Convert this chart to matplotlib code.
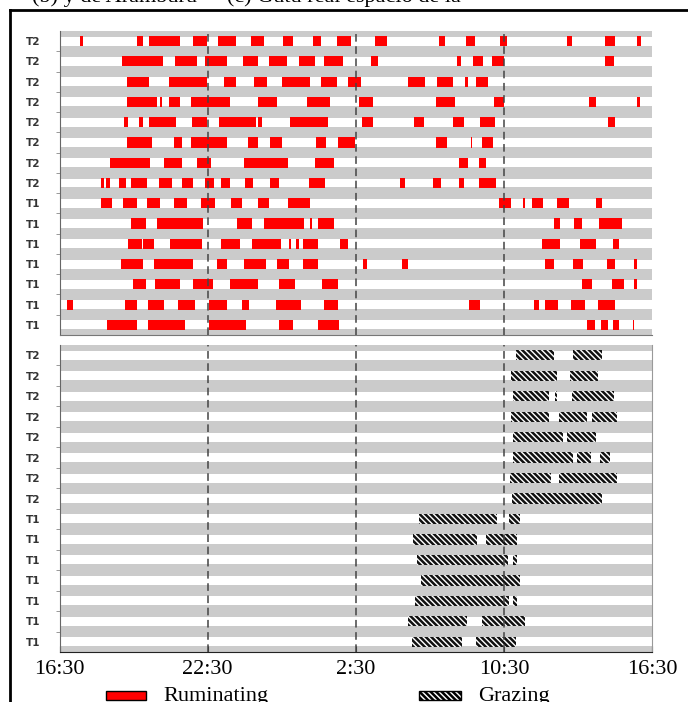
import matplotlib
matplotlib.use('Agg')
import matplotlib.pyplot as plt
from matplotlib.patches import Rectangle
from matplotlib.lines import Line2D

# rows, top to bottom (same order in both panels)
row_labels = ['T2'] * 8 + ['T1'] * 7

# time axis: position 0..24, labels at equal spacing
tick_pos = [0, 6, 12, 18, 24]
tick_labels = ['16:30', '22:30', '2:30', '10:30', '16:30']

# ruminating bouts (start, end) per animal
rumination = [
    [(0.83, 0.96), (3.13, 3.37), (3.61, 4.88), (5.42, 5.96), (6.43, 7.15), (7.74, 8.28), (9.06, 9.47),
     (10.25, 10.57), (11.25, 11.80), (12.79, 13.25), (15.36, 15.62), (16.46, 16.81), (17.83, 18.13),
     (20.53, 20.75), (22.10, 22.50), (23.37, 23.53)],
    [(2.54, 4.18), (4.66, 5.58), (5.90, 6.79), (7.44, 8.05), (8.47, 9.22), (9.70, 10.33), (10.72, 11.49),
     (12.61, 12.89), (16.08, 16.24), (16.75, 17.13), (17.50, 17.98), (22.10, 22.45)],
    [(2.74, 3.61), (4.43, 5.96), (6.66, 7.15), (7.89, 8.41), (9.00, 10.14), (10.59, 11.25), (11.68, 12.22),
     (14.11, 14.81), (15.27, 15.92), (16.43, 16.54), (16.87, 17.36)],
    [(2.74, 3.94), (4.07, 4.15), (4.42, 4.88), (5.32, 6.90), (8.05, 8.82), (10.01, 10.95), (12.14, 12.68),
     (15.24, 16.01), (17.59, 18.01), (21.45, 21.72), (23.37, 23.50)],
    [(2.61, 2.77), (3.21, 3.37), (3.61, 4.72), (5.35, 5.96), (6.46, 7.96), (8.04, 8.19), (9.33, 10.87),
     (12.23, 12.70), (14.35, 14.76), (15.92, 16.39), (17.04, 17.62), (22.21, 22.50)],
    [(2.74, 3.74), (4.64, 4.95), (5.32, 6.77), (7.64, 8.04), (8.52, 9.02), (10.38, 10.79), (11.28, 11.98),
     (15.23, 15.69), (16.65, 16.70), (17.12, 17.54)],
    [(2.04, 3.66), (4.23, 4.95), (5.58, 6.13), (7.48, 9.24), (10.33, 11.11), (16.16, 16.55), (16.97, 17.26)],
    [(1.68, 1.80), (1.88, 2.04), (2.42, 2.69), (2.91, 3.53), (4.02, 4.54), (4.96, 5.39), (5.90, 6.27),
     (6.55, 6.90), (7.51, 7.85), (8.52, 8.90), (10.09, 10.76), (13.79, 14.00), (15.13, 15.43),
     (16.19, 16.38), (17.00, 17.67)],
    [(1.68, 2.13), (2.57, 3.14), (3.54, 4.07), (4.64, 5.16), (5.73, 6.30), (6.94, 7.39), (8.04, 8.48),
     (9.25, 10.14), (17.79, 18.28), (18.77, 18.85), (19.13, 19.57), (20.14, 20.63), (21.72, 21.96)],
    [(2.89, 3.50), (3.94, 5.82), (7.20, 7.81), (8.28, 9.90), (10.14, 10.22), (10.48, 11.11), (20.03, 20.28),
     (20.83, 21.14), (21.85, 22.76)],
    [(2.79, 3.33), (3.37, 3.84), (4.49, 5.78), (6.54, 7.31), (7.81, 8.97), (9.28, 9.36), (9.59, 9.68),
     (9.86, 10.47), (11.36, 11.67), (19.53, 20.26), (21.07, 21.72), (22.40, 22.64)],
    [(2.48, 3.37), (3.84, 5.42), (6.36, 6.77), (7.48, 8.35), (8.82, 9.30), (9.85, 10.47), (12.28, 12.44),
     (13.88, 14.10), (19.64, 20.03), (20.80, 21.21), (22.18, 22.49), (23.27, 23.37)],
    [(2.99, 3.50), (3.88, 4.88), (5.39, 6.23), (6.90, 8.02), (8.89, 9.55), (10.64, 11.28), (21.17, 21.55),
     (22.38, 22.85), (23.27, 23.37)],
    [(0.29, 0.53), (2.65, 3.13), (3.60, 4.23), (4.79, 5.50), (6.05, 6.77), (7.39, 7.68), (8.77, 9.79),
     (10.71, 11.26), (16.58, 17.01), (19.22, 19.40), (19.64, 20.18), (20.72, 21.28), (21.79, 22.49)],
    [(1.94, 3.13), (3.60, 5.09), (6.05, 7.55), (8.90, 9.44), (10.48, 11.32), (21.37, 21.69), (21.92, 22.22),
     (22.40, 22.65), (23.21, 23.27)],
]

# grazing bouts (start, end) per animal
grazing = [
    [(18.47, 20.02), (20.78, 21.95)],
    [(18.28, 20.13), (20.67, 21.81)],
    [(18.37, 19.83), (20.06, 20.13), (20.74, 22.45)],
    [(18.28, 19.83), (20.22, 21.34), (21.57, 22.56)],
    [(18.37, 20.37), (20.56, 21.72)],
    [(18.37, 20.78), (20.94, 21.51), (21.88, 22.29)],
    [(18.24, 19.89), (20.22, 22.56)],
    [(18.31, 21.95)],
    [(14.57, 17.70), (18.20, 18.64)],
    [(14.32, 16.92), (17.27, 18.51)],
    [(14.49, 18.17), (18.37, 18.51)],
    [(14.62, 18.64)],
    [(14.39, 18.21), (18.37, 18.51)],
    [(14.12, 16.51), (17.09, 18.85)],
    [(14.26, 16.28), (16.86, 18.48)],
]

plt.rcParams['hatch.linewidth'] = 1.8
serif = 'Liberation Serif'
hatch = '\\' * 6

fig = plt.figure(figsize=(6.88, 7.02), dpi=100)
ax1 = fig.add_axes([0.0865, 0.5228, 0.8616, 0.433])
ax2 = fig.add_axes([0.0865, 0.0712, 0.8616, 0.4373])

n = len(row_labels)


def setup(ax):
    ax.set_facecolor('#cbcbcb')
    ax.set_xlim(0, 24)
    ax.set_ylim(n - 0.5, -0.5)
    for i in range(n):
        ax.axhspan(i - 0.22, i + 0.22, color='white', lw=0, zorder=0.5)
    for x in tick_pos[1:-1]:
        ax.axvline(x, color='#444444', lw=1.1, ls=(0, (5, 3)), zorder=3)
    ax.set_yticks(range(n))
    ax.set_yticklabels(row_labels, fontsize=7.5, fontweight='bold', color='#333333')
    ax.set_yticks([i + 0.5 for i in range(n - 1)], minor=True)
    ax.tick_params(axis='y', which='major', length=0, pad=14)
    ax.tick_params(axis='y', which='minor', length=3, color='#888888', direction='out')
    ax.spines['top'].set_visible(False)
    ax.spines['left'].set_color('#666666')


setup(ax1)
for i, bouts in enumerate(rumination):
    ax1.broken_barh([(s, e - s) for s, e in bouts], (i - 0.25, 0.5),
                    facecolors='#ff0000', edgecolor='none', zorder=2)
ax1.spines['right'].set_visible(False)
ax1.spines['bottom'].set_color('#777777')
ax1.set_xticks(tick_pos)
ax1.tick_params(axis='x', length=0, labelbottom=False)

setup(ax2)
for i, bouts in enumerate(grazing):
    ax2.broken_barh([(s, e - s) for s, e in bouts], (i - 0.25, 0.5),
                    facecolors='white', edgecolor='#111111', hatch=hatch, linewidth=0, zorder=2)
ax2.spines['right'].set_color('#999999')
ax2.spines['bottom'].set_color('#222222')
ax2.set_xticks(tick_pos)
ax2.set_xticklabels(tick_labels, fontsize=16, family=serif)
ax2.tick_params(axis='x', direction='in', length=4, pad=6, color='#333333')

# outer frame
fig.add_artist(Line2D([10 / 688, 10 / 688], [0, 1 - 10 / 702], color='black', lw=2, transform=fig.transFigure))
fig.add_artist(Line2D([10 / 688, 1], [1 - 10 / 702, 1 - 10 / 702], color='black', lw=2, transform=fig.transFigure))

# caption above the frame, cut by the top edge as in the source
fig.text(32 / 688, 1 + 3 / 702, '(b) y de Aramburu  ·  (c) Gutu real espacio de la', fontsize=16, family=serif,
         va='center', ha='left')

# legend
fig.add_artist(Rectangle((106 / 688, 1 - 700 / 702), 40 / 688, 9 / 702, facecolor='#ff0000',
                         edgecolor='black', lw=1, transform=fig.transFigure))
fig.text(163 / 688, 1 - 701 / 702, 'Ruminating', fontsize=16, family=serif, va='baseline')
fig.add_artist(Rectangle((419 / 688, 1 - 700 / 702), 42 / 688, 9 / 702, facecolor='white',
                         edgecolor='black', hatch=hatch, lw=1, transform=fig.transFigure))
fig.text(478 / 688, 1 - 701 / 702, 'Grazing', fontsize=16, family=serif, va='baseline')

fig.savefig('out.png', dpi=100)
